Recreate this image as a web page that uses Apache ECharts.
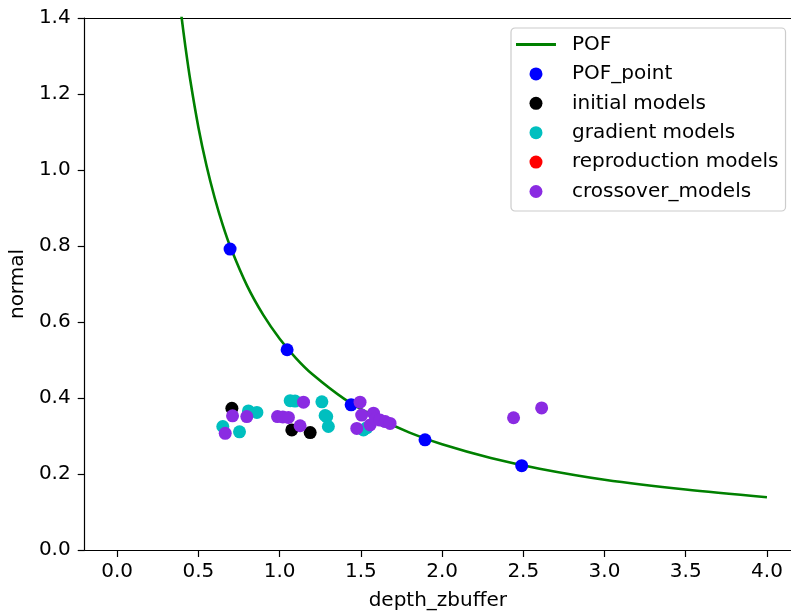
<!DOCTYPE html>
<html>
<head>
<meta charset="utf-8">
<script src="https://cdn.jsdelivr.net/npm/echarts@6/dist/echarts.min.js"></script>
<style>html,body{margin:0;padding:0;background:#fff}#c{width:791px;height:616px}</style>
</head>
<body>
<div id="c"></div>
<script>
var xTicks = [0, 0.5, 1.0, 1.5, 2.0, 2.5, 3.0, 3.5, 4.0];
var yTicks = [0, 0.2, 0.4, 0.6, 0.8, 1.0, 1.2, 1.4];
var pofCurve = [[0.38,1.463],[0.397,1.40],[0.42,1.324],[0.45,1.236],[0.5,1.112],[0.55,1.011],[0.6,0.927],[0.65,0.855],[0.7,0.794],[0.8,0.695],[0.9,0.618],[1.0,0.556],[1.1,0.505],[1.2,0.463],[1.4,0.397],[1.6,0.348],[1.8,0.309],[2.0,0.278],[2.3,0.242],[2.6,0.214],[3.0,0.185],[3.5,0.159],[4.0,0.139]];
var pofPoints = [[0.695,0.792],[1.046,0.527],[1.44,0.382],[1.895,0.29],[2.49,0.222]];
var initialModels = [[0.706,0.373],[1.075,0.316],[1.188,0.309]];
var gradientModels = [[0.808,0.366],[0.86,0.362],[0.65,0.325],[0.753,0.311],[1.065,0.393],[1.095,0.392],[1.26,0.39],[1.28,0.354],[1.29,0.351],[1.30,0.325],[1.516,0.316],[1.537,0.322]];
var reproductionModels = [];
var crossoverModels = [[0.71,0.353],[0.798,0.351],[0.665,0.307],[0.987,0.351],[1.02,0.35],[1.054,0.349],[1.147,0.389],[1.126,0.327],[1.495,0.389],[1.505,0.355],[1.578,0.36],[1.557,0.329],[1.59,0.345],[1.618,0.342],[1.65,0.338],[1.68,0.333],[1.475,0.32],[2.44,0.348],[2.613,0.374]];

var FONT = 'DejaVu Sans';
var FS = 20;
var chart = echarts.init(document.getElementById('c'), null, {renderer: 'canvas'});
var lineIcon = 'path://M0,5h40v3h-40z M0,0h0.01v0.01h-0.01z M0,13h0.01v0.01h-0.01z';
var option = {
  animation: false,
  backgroundColor: '#fff',
  grid: {left: 84, top: 18, right: 0, bottom: 66, containLabel: false},
  xAxis: [{
    type: 'value', min: -0.2, max: 4.148,
    name: 'depth_zbuffer', nameLocation: 'middle', nameGap: 41,
    nameTextStyle: {fontFamily: FONT, fontSize: FS, color: '#000'},
    axisLine: {show: true, onZero: false, lineStyle: {color: '#000', width: 1.2}},
    axisTick: {show: true, length: 7, lineStyle: {color: '#000', width: 1.2}, customValues: xTicks},
    axisLabel: {fontFamily: FONT, fontSize: FS, color: '#000', margin: 12, customValues: xTicks,
      formatter: function (v) { return v.toFixed(1); }},
    splitLine: {show: false}
  }, {
    type: 'value', position: 'top', min: -0.2, max: 4.148,
    axisLine: {show: true, onZero: false, lineStyle: {color: '#000', width: 1.2}},
    axisTick: {show: false}, axisLabel: {show: false}, splitLine: {show: false}
  }],
  yAxis: {
    type: 'value', min: 0, max: 1.4, interval: 0.2,
    name: 'normal', nameLocation: 'middle', nameGap: 53,
    nameTextStyle: {fontFamily: FONT, fontSize: FS, color: '#000'},
    axisLine: {show: true, onZero: false, lineStyle: {color: '#000', width: 1.2}},
    axisTick: {show: true, length: 7, lineStyle: {color: '#000', width: 1.2}},
    axisLabel: {fontFamily: FONT, fontSize: FS, color: '#000', margin: 14,
      formatter: function (v) { return v.toFixed(1); }},
    splitLine: {show: false}
  },
  legend: {
    left: 511, top: 28, orient: 'vertical',
    backgroundColor: 'rgba(255,255,255,0.8)', borderColor: '#cccccc', borderWidth: 1.2, borderRadius: 4,
    padding: [5, 7, 8, 5],
    itemWidth: 44, itemHeight: 13, itemGap: 6.4,
    textStyle: {fontFamily: FONT, fontSize: FS, color: '#000', lineHeight: 23, padding: [0, 0, 0, 9]},
    data: [
      {name: 'POF', icon: lineIcon, itemStyle: {color: '#008000'}},
      {name: 'POF_point', icon: 'circle'},
      {name: 'initial models', icon: 'circle'},
      {name: 'gradient models', icon: 'circle'},
      {name: 'reproduction models', icon: 'circle', itemStyle: {color: '#ff0000'}},
      {name: 'crossover_models', icon: 'circle'}
    ]
  },
  series: [
    {name: 'POF', type: 'line', z: 1, data: pofCurve, smooth: 0.3, showSymbol: false, symbol: 'none',
      clip: true, lineStyle: {color: '#008000', width: 2.6}, itemStyle: {color: '#008000'}},
    {name: 'POF_point', type: 'scatter', z: 2, data: pofPoints, symbolSize: 13, itemStyle: {color: '#0000ff', opacity: 1}},
    {name: 'initial models', type: 'scatter', z: 3, data: initialModels, symbolSize: 13, itemStyle: {color: '#000000', opacity: 1}},
    {name: 'gradient models', type: 'scatter', z: 4, data: gradientModels, symbolSize: 13, itemStyle: {color: '#00bfbf', opacity: 1}},
    {name: 'reproduction models', type: 'scatter', z: 5, data: reproductionModels, symbolSize: 13, itemStyle: {color: '#ff0000', opacity: 1}},
    {name: 'crossover_models', type: 'scatter', z: 6, data: crossoverModels, symbolSize: 13, itemStyle: {color: '#8a2be2', opacity: 1}}
  ]
};
chart.setOption(option);
</script>
</body>
</html>
